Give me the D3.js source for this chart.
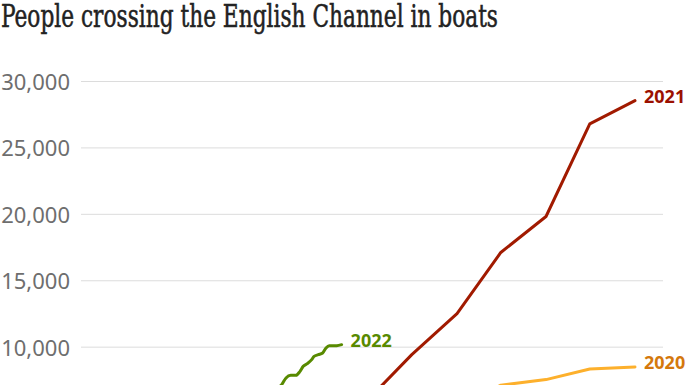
<!DOCTYPE html>
<html>
<head>
<meta charset="utf-8">
<script src="https://cdn.jsdelivr.net/npm/d3@7"></script>
<style>
  body { margin: 0; overflow: hidden; background: #fff; }
  #chart { width: 696px; height: 385px; overflow: hidden; }
  .tick-label { font-family: "Noto Sans", sans-serif; font-size: 22px; fill: #6e6e6e; }
  .series-label { font-family: "Noto Sans", sans-serif; font-size: 18px; font-weight: bold; }
</style>
</head>
<body>
<div id="chart"></div>
<script>
const w = 696;
const h = 520; // taller than the window, bottom of chart is cut off like the original

// day of year at the end of each month
const months = ["Jan","Feb","Mar","Apr","May","Jun","Jul","Aug","Sep","Oct","Nov","Dec"];
const monthEnd = [31,59,90,120,151,181,212,243,273,304,334,365];

// cumulative crossings at the end of each month
const values2020 = [100,180,280,1000,1850,2500,3950,5400,7100,7520,8320,8470];
const values2021 = [230,520,1300,1880,3800,5900,9400,12480,17090,19800,26770,28520];

// 2022, day of year -> cumulative total
const days2022 =   [31,59,90,120,122.8,125.8,129,132.6,135.4,137.6,140.4,143.4,145,147.9,150.9,153.2,155.4,160.5,163.9];
const values2022 = [1100,1700,4550,6900,7143,7647,7842,7842,8143,8519,8722,9023,9271,9398,9526,9902,10075,10075,10150];

// only the gridlines that are inside the visible crop
const yTicks = [10000,15000,20000,25000,30000];

const svg = d3.select("#chart")
  .append('svg')
  .attr('width', w)
  .attr('height', h);

//Title
svg.append('text')
  .attr('x', 1)
  .attr('y', 27)
  .attr('textLength', 497)
  .attr('lengthAdjust', 'spacingAndGlyphs')
  .style('font-family', '"DejaVu Serif", serif')
  .style('font-stretch', 'condensed')
  .style('font-size', '31px')
  .style('fill', '#222')
  .style('stroke', '#222')
  .style('stroke-width', 0.5)
  .text('People crossing the English Channel in boats');

//Scales
const xScale = d3.scaleLinear().domain([0, 365]).range([102.5, 635]);
const yScale = d3.scaleLinear().domain([0, 30000]).range([479.5, 81]);

//Grid lines
const yAxis = d3.axisLeft(yScale)
  .tickValues(yTicks)
  .tickSize(-(663 - 81))
  .tickPadding(11)
  .tickFormat(d3.format(','));

const gy = svg.append('g')
  .attr('transform', 'translate(81,0)')
  .call(yAxis);
gy.select('.domain').remove();
gy.selectAll('.tick line').attr('stroke', '#dcdcdc').attr('stroke-width', 1);
gy.selectAll('.tick text')
  .attr('class', 'tick-label')
  .attr('dy', '0.32em')
  .attr('y', 1.5)
  .attr('x', -11)
  .attr('font-family', null).attr('font-size', null).attr('fill', null);
gy.attr('font-family', null).attr('font-size', null);

//Line generators
const line = d3.line()
  .x(d => xScale(d[0]))
  .y(d => yScale(d[1]));

const series = [
  { name: '2020', pts: [[0,0]].concat(monthEnd.map((d,i) => [d, values2020[i]])), stroke: '#fdb02c', label: '#d4780c', curve: d3.curveLinear },
  { name: '2021', pts: [[0,0]].concat(monthEnd.map((d,i) => [d, values2021[i]])), stroke: '#a11a00', label: '#9b1000', curve: d3.curveLinear },
  { name: '2022', pts: [[0,0]].concat(days2022.map((d,i) => [d, values2022[i]])), stroke: '#588a00', label: '#588a00', curve: d3.curveMonotoneX }
];

series.forEach(s => {
  svg.append('path')
    .datum(s.pts)
    .attr('fill', 'none')
    .attr('stroke', s.stroke)
    .attr('stroke-width', 3)
    .attr('stroke-linejoin', 'round')
    .attr('stroke-linecap', 'round')
    .attr('d', line.curve(s.curve));

  const last = s.pts[s.pts.length - 1];
  svg.append('text')
    .attr('class', 'series-label')
    .attr('x', xScale(last[0]) + 9)
    .attr('y', yScale(last[1]) - 4)
    .attr('dy', '0.35em')
    .attr('fill', s.label)
    .text(s.name);
});
</script>
</body>
</html>
